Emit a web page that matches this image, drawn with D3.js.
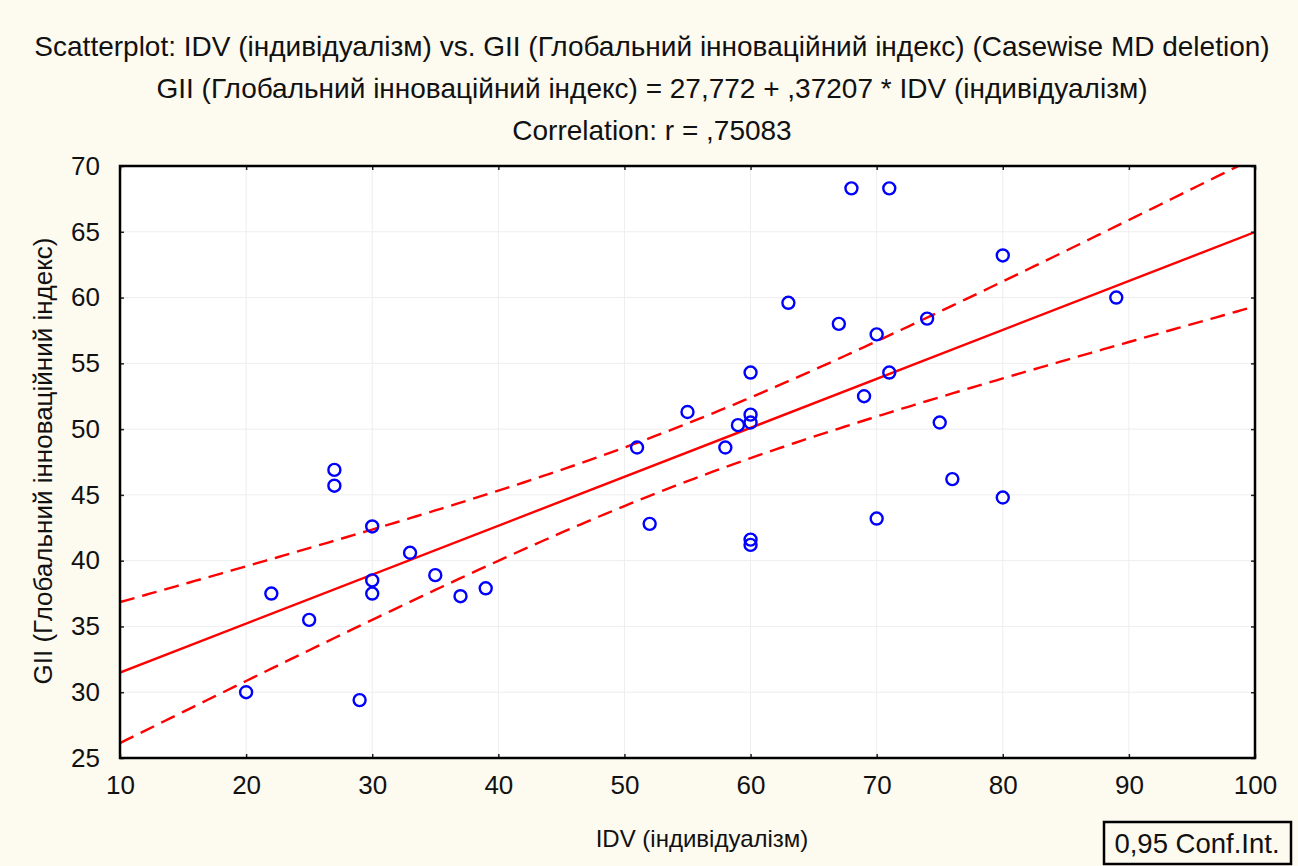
<!DOCTYPE html>
<html><head><meta charset="utf-8">
<script src="https://cdn.jsdelivr.net/npm/d3@7"></script>
<style>
html,body{margin:0;padding:0;background:#fdfaf0;}
svg{display:block;}
text{font-family:"Liberation Sans", Arial, sans-serif;fill:#111;}
</style></head>
<body>
<svg id="chart" width="1298" height="866"></svg>
<script>
// ---- data ----
const idv = [20,22,25,27,27,29,30,30,30,33,35,37,39,51,52,55,58,59,60,60,60,60,60,63,67,68,71,70,69,71,70,74,75,76,80,80,89];
const gii = [30.0,37.5,35.5,46.9,45.7,29.4,42.6,38.5,37.5,40.6,38.9,37.3,37.9,48.6,42.8,51.3,48.6,50.3,51.1,50.5,54.3,41.6,41.2,59.6,58.0,68.3,68.3,57.2,52.5,54.3,43.2,58.4,50.5,46.2,63.2,44.8,60.0];
const intercept = 27.772;
const slope = 0.37207;
const tCrit = 2.03;           // t(0.975, df=35)
const xTicks = [10,20,30,40,50,60,70,80,90,100];
const yTicks = [25,30,35,40,45,50,55,60,65,70];
const titleLines = [
  "Scatterplot: IDV (індивідуалізм) vs. GII (Глобальний інноваційний індекс) (Casewise MD deletion)",
  "GII (Глобальний інноваційний індекс) = 27,772 + ,37207 * IDV (індивідуалізм)",
  "Correlation: r = ,75083"
];
const xLabel = "IDV (індивідуалізм)";
const yLabel = "GII (Глобальний інноваційний індекс)";
const legendText = "0,95 Conf.Int.";

// ---- layout ----
const svg = d3.select("#chart");
const L = 120, R = 1255, T = 166, B = 758;
const x = d3.scaleLinear().domain([10,100]).range([L,R]);
const y = d3.scaleLinear().domain([25,70]).range([B,T]);
const FONT = '"Liberation Sans", Arial, sans-serif';

// titles
const titleY = [56, 98, 140];
titleLines.forEach((t,i)=>{
  svg.append("text").attr("x",652).attr("y",titleY[i]).attr("text-anchor","middle")
    .attr("font-size",28).text(t);
});

// plot bg
svg.append("rect").attr("x",L).attr("y",T).attr("width",R-L).attr("height",B-T).attr("fill","#fff");

// grid
const g = svg.append("g");
g.selectAll(".gx").data(xTicks.slice(1,-1)).enter().append("line")
  .attr("x1",d=>x(d)).attr("x2",d=>x(d)).attr("y1",T).attr("y2",B)
  .attr("stroke","#eeeeee").attr("stroke-width",1);
g.selectAll(".gy").data(yTicks.slice(1,-1)).enter().append("line")
  .attr("y1",d=>y(d)).attr("y2",d=>y(d)).attr("x1",L).attr("x2",R)
  .attr("stroke","#eeeeee").attr("stroke-width",1);

// clip
svg.append("clipPath").attr("id","clip").append("rect")
  .attr("x",L).attr("y",T).attr("width",R-L).attr("height",B-T);

// regression stats for confidence band
const n = idv.length;
const xbar = d3.mean(idv);
const sxx = d3.sum(idv, v => (v-xbar)*(v-xbar));
const sse = d3.sum(idv, (v,i) => { const r = gii[i] - (intercept + slope*v); return r*r; });
const se = Math.sqrt(sse/(n-2));
const xs = d3.range(10, 100.001, 0.5);
const fit = v => intercept + slope*v;
const hw = v => tCrit*se*Math.sqrt(1/n + (v-xbar)*(v-xbar)/sxx);

const line = d3.line().x(d=>x(d[0])).y(d=>y(d[1]));
const pg = svg.append("g").attr("clip-path","url(#clip)");
pg.append("path").attr("d", line(xs.map(v=>[v, fit(v)+hw(v)])))
  .attr("fill","none").attr("stroke","#ff0000").attr("stroke-width",2.4).attr("stroke-dasharray","15,8");
pg.append("path").attr("d", line(xs.map(v=>[v, fit(v)-hw(v)])))
  .attr("fill","none").attr("stroke","#ff0000").attr("stroke-width",2.4).attr("stroke-dasharray","15,8");
pg.append("path").attr("d", line([[10,fit(10)],[100,fit(100)]]))
  .attr("fill","none").attr("stroke","#ff0000").attr("stroke-width",2.4);

// points
pg.selectAll("circle").data(idv.map((v,i)=>[v,gii[i]])).enter().append("circle")
  .attr("cx",d=>x(d[0])).attr("cy",d=>y(d[1])).attr("r",6)
  .attr("fill","none").attr("stroke","#0000ff").attr("stroke-width",2.4);

// axes
const axB = svg.append("g").attr("transform",`translate(0,${B})`)
  .call(d3.axisBottom(x).tickValues(xTicks).tickSize(-4).tickPadding(18).tickFormat(d3.format("d")));
const axT = svg.append("g").attr("transform",`translate(0,${T})`)
  .call(d3.axisTop(x).tickValues(xTicks).tickSize(-4).tickFormat(""));
const axL = svg.append("g").attr("transform",`translate(${L},0)`)
  .call(d3.axisLeft(y).tickValues(yTicks).tickSize(-4).tickPadding(20).tickFormat(d3.format("d")));
const axR = svg.append("g").attr("transform",`translate(${R},0)`)
  .call(d3.axisRight(y).tickValues(yTicks).tickSize(-4).tickFormat(""));
[axB,axT,axL,axR].forEach(a=>{
  a.select(".domain").remove();
  a.selectAll(".tick line").attr("stroke","#222").attr("stroke-width",1.5);
  a.selectAll("text").attr("font-size",26).attr("fill","#111").style("font-family",FONT);
});

// frame
svg.append("rect").attr("x",L).attr("y",T).attr("width",R-L).attr("height",B-T)
  .attr("fill","none").attr("stroke","#000").attr("stroke-width",2.5);

// axis labels
svg.append("text").attr("x",702).attr("y",847).attr("text-anchor","middle").attr("font-size",24).text(xLabel);
svg.append("text").attr("transform","translate(52,461) rotate(-90)").attr("text-anchor","middle").attr("font-size",26).text(yLabel);

// legend box
svg.append("rect").attr("x",1104).attr("y",822).attr("width",187).attr("height",42)
  .attr("fill","#fdfaf0").attr("stroke","#000").attr("stroke-width",2.5);
svg.append("text").attr("x",1197).attr("y",853).attr("text-anchor","middle").attr("font-size",27.5).text(legendText);
</script>
</body></html>
